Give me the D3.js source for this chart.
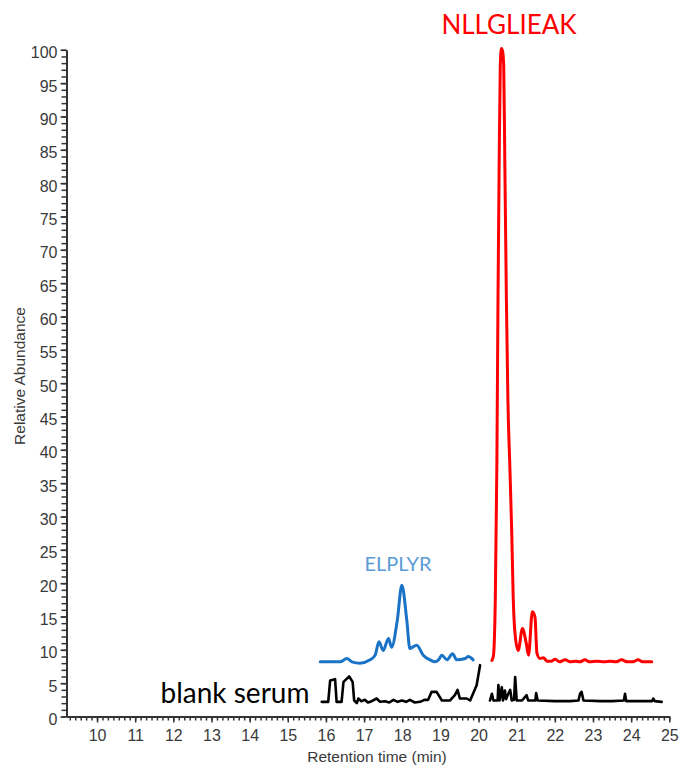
<!DOCTYPE html>
<html>
<head>
<meta charset="utf-8">
<script src="https://cdn.jsdelivr.net/npm/d3@7"></script>
<style>
  body { margin: 0; background: #fff; }
  svg { display: block; }
  .tick text { font-family: 'Liberation Sans', Arial, sans-serif; fill: #3a3a3a; }
</style>
</head>
<body>
<div class="chart_container"></div>
<script>
'use strict';

// NLLGLIEAK trace (red)
const nlTime = [20.35, 20.39, 20.44, 20.48, 20.51, 20.54, 20.57, 20.60, 20.63, 20.66, 20.69, 20.73,
  20.77, 20.82, 20.87, 20.91, 20.96, 21.04, 21.15, 21.25, 21.31, 21.41, 21.48, 21.53, 21.61,
  21.70, 21.80, 21.90, 22.01, 22.12, 22.27, 22.40, 22.55, 22.65, 22.79, 22.90, 23.10, 23.30,
  23.45, 23.60, 23.75, 23.90, 24.05, 24.18, 24.30, 24.54];
const nlAbund = [8.4, 9.1, 17.9, 37.6, 62.6, 82.6, 97.6, 100.2, 99.8, 97.6, 82.6, 62.6,
  47.4, 37.6, 27.6, 17.6, 12.2, 9.9, 13.2, 11.0, 9.2, 15.7, 14.9, 9.5, 8.7,
  8.8, 8.3, 8.3, 8.6, 8.2, 8.5, 8.2, 8.3, 8.2, 8.5, 8.2, 8.3, 8.2,
  8.3, 8.2, 8.5, 8.2, 8.2, 8.5, 8.2, 8.2];

// ELPLYR trace (blue)
const elTime = [15.85, 16.37, 16.55, 16.68, 16.89, 17.16, 17.29, 17.39, 17.50, 17.64, 17.72, 17.87,
  17.99, 18.12, 18.20, 18.38, 18.55, 18.73, 18.86, 18.95, 19.04, 19.17, 19.32, 19.43, 19.65,
  19.73, 19.86];
const elAbund = [8.2, 8.2, 8.7, 8.2, 8.0, 8.5, 9.2, 11.2, 9.9, 11.7, 10.4, 14.4,
  19.7, 14.4, 10.2, 10.7, 9.2, 8.5, 8.2, 8.5, 9.2, 8.5, 9.4, 8.5, 8.7,
  9.0, 8.5];

// blank serum trace (black), null = gap in acquisition
const blankTime = [15.89, 16.06, 16.11, 16.24, 16.28, 16.41, 16.46, 16.61, 16.70, 16.74, 16.81, 16.85,
  16.93, 17.02, 17.10, 17.20, 17.33, 17.42, 17.55, 17.66, 17.77, 17.88, 17.99, 18.10, 18.20,
  18.33, 18.47, 18.58, 18.68, 18.77, 18.90, 19.04, 19.25, 19.38, 19.45, 19.51, 19.69, 19.78,
  19.95, 20.04, 20.17,
  20.30, 20.35, 20.39, 20.50, 20.52, 20.55, 20.61, 20.64, 20.69, 20.72, 20.77, 20.83, 20.87,
  20.93, 20.96, 21.00, 21.14, 21.26, 21.30, 21.49, 21.51, 21.55, 22.00, 22.40, 22.62, 22.66,
  22.70, 22.75, 23.20, 23.50, 23.81, 23.84, 23.87, 24.30, 24.55, 24.58, 24.62, 24.80];
const blankAbund = [2.2, 2.2, 5.4, 5.6, 2.2, 2.2, 5.2, 6.0, 5.2, 2.4, 2.0, 2.7,
  2.3, 2.5, 2.1, 2.3, 2.7, 2.2, 2.3, 2.1, 2.5, 2.2, 2.4, 2.2, 2.5,
  2.1, 2.2, 2.5, 2.5, 3.7, 3.7, 2.4, 2.4, 3.2, 4.0, 2.7, 2.7, 2.4,
  4.7, 7.7, null,
  2.4, 3.4, 2.4, 2.4, 4.7, 2.4, 4.4, 2.4, 3.9, 2.6, 3.3, 4.0, 2.4,
  2.5, 5.9, 2.4, 2.4, 3.2, 2.4, 2.4, 3.5, 2.4, 2.3, 2.3, 2.4, 3.4,
  3.7, 2.4, 2.3, 2.3, 2.4, 3.4, 2.3, 2.3, 2.3, 2.7, 2.3, 2.2];

const xTicks = d3.range(10, 26);
const yTicks = d3.range(0, 101, 5);

const width = 680,
  height = 767;

const svg = d3.select('.chart_container')
  .append('svg')
  .attr('width', width)
  .attr('height', height);

const xScale = d3.scaleLinear()
  .domain([9.2, 25])
  .range([66.5, 669.3]);

const yScale = d3.scaleLinear()
  .domain([0, 100])
  .range([716.5, 49.8]);

// minor ticks: every 1/7 min on x, every 1 unit on y
const xMinor = d3.range(-5, 106).map(i => 10 + i / 7).filter(t => t >= 9.2 && t <= 25.001);
const yMinor = d3.range(0, 101);

svg.append('g')
  .attr('transform', `translate(0, ${yScale(0)})`)
  .call(d3.axisBottom(xScale).tickValues(xMinor).tickSize(4).tickFormat(''))
  .call(g => g.select('.domain').remove())
  .selectAll('line').attr('stroke', '#333').attr('stroke-width', 1.5);

svg.append('g')
  .attr('transform', `translate(${xScale(9.2)}, 0)`)
  .call(d3.axisLeft(yScale).tickValues(yMinor).tickSize(5).tickFormat(''))
  .call(g => g.select('.domain').remove())
  .selectAll('line').attr('stroke', '#333').attr('stroke-width', 1.5);

svg.append('g')
  .attr('id', 'x-axis')
  .attr('transform', `translate(0, ${yScale(0)})`)
  .call(d3.axisBottom(xScale).tickValues(xTicks).tickSize(6).tickSizeOuter(0).tickPadding(7).tickFormat(d3.format('d')))
  .call(g => g.select('.domain').attr('stroke', '#333').attr('stroke-width', 2))
  .call(g => g.selectAll('line').attr('stroke', '#333').attr('stroke-width', 1.5))
  .call(g => g.selectAll('text').style('font-size', '16px'));

svg.append('g')
  .attr('id', 'y-axis')
  .attr('transform', `translate(${xScale(9.2)}, 0)`)
  .call(d3.axisLeft(yScale).tickValues(yTicks).tickSize(6).tickSizeOuter(0).tickPadding(3).tickFormat(d3.format('d')))
  .call(g => g.select('.domain').attr('stroke', '#333').attr('stroke-width', 2))
  .call(g => g.selectAll('line').attr('stroke', '#333').attr('stroke-width', 1.5))
  .call(g => g.selectAll('text').style('font-size', '16px').attr('dy', '0.5em'));

// axis titles
svg.append('text')
  .attr('x', 377)
  .attr('y', 762)
  .attr('text-anchor', 'middle')
  .style('font-family', "'Liberation Sans', Arial, sans-serif")
  .style('font-size', '15.5px')
  .style('fill', '#3a3a3a')
  .text('Retention time (min)');

svg.append('text')
  .attr('transform', 'translate(25, 376) rotate(-90)')
  .attr('text-anchor', 'middle')
  .style('font-family', "'Liberation Sans', Arial, sans-serif")
  .style('font-size', '15.5px')
  .style('fill', '#3a3a3a')
  .text('Relative Abundance');

const line = d3.line()
  .defined(d => d[1] !== null)
  .x(d => xScale(d[0]))
  .y(d => yScale(d[1]));

const traces = [
  { time: blankTime, abund: blankAbund, color: '#000000', w: 2.6, curve: d3.curveLinear },
  { time: elTime, abund: elAbund, color: '#1a73c6', w: 3, curve: d3.curveMonotoneX },
  { time: nlTime, abund: nlAbund, color: '#ff0000', w: 3, curve: d3.curveMonotoneX }
];

traces.forEach(tr => {
  svg.append('path')
    .datum(tr.time.map((t, i) => [t, tr.abund[i]]))
    .attr('d', line.curve(tr.curve))
    .attr('fill', 'none')
    .attr('stroke', tr.color)
    .attr('stroke-width', tr.w)
    .attr('stroke-linejoin', 'round')
    .attr('stroke-linecap', 'round');
});

// peptide labels
svg.append('text')
  .attr('x', 509)
  .attr('y', 34)
  .attr('text-anchor', 'middle')
  .style('font-family', 'Lato, sans-serif')
  .style('font-size', '26px')
  .style('fill', '#ff0000')
  .text('NLLGLIEAK');

svg.append('text')
  .attr('x', 398)
  .attr('y', 571)
  .attr('text-anchor', 'middle')
  .style('font-family', 'Lato, sans-serif')
  .style('font-size', '20px')
  .style('fill', '#5b9bd5')
  .text('ELPLYR');

svg.append('text')
  .attr('x', 235)
  .attr('y', 703)
  .attr('text-anchor', 'middle')
  .style('font-family', 'Lato, sans-serif')
  .style('font-size', '28px')
  .style('fill', '#000')
  .text('blank serum');
</script>
</body>
</html>
